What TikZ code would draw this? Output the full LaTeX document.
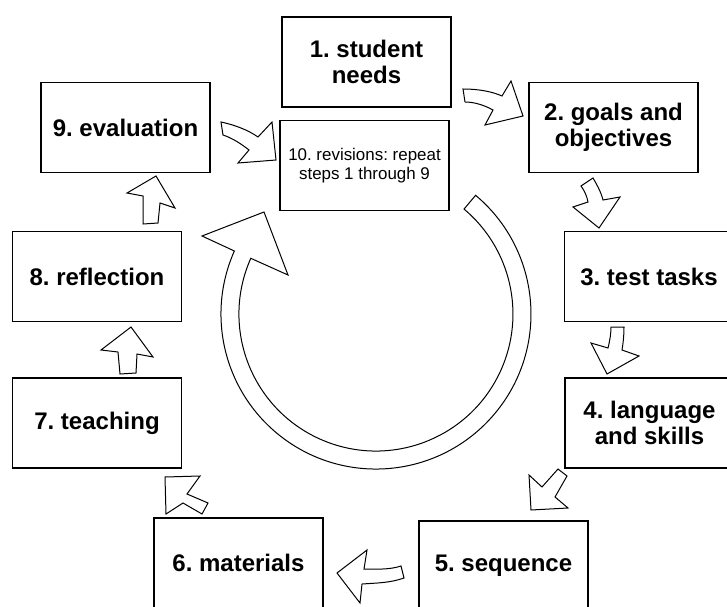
\documentclass[tikz,border=0pt]{standalone}
\usepackage{fontspec}
\setmainfont{Liberation Sans}
\frenchspacing
\usetikzlibrary{positioning}

\begin{document}
\begin{tikzpicture}[x=0.75pt,y=0.75pt,yscale=-1,xscale=1,
  stepbox/.style={draw, line width=1pt, minimum width=126.75pt, minimum height=67.5pt, inner sep=0pt, align=center, font=\fontsize{18}{19.8}\selectfont\bfseries},
  notebox/.style={stepbox, font=\fontsize{12.7}{14.3}\selectfont},
  blockarrow/.style={draw, line width=0.75pt, fill=white, line join=miter}]
\useasboundingbox (0,0) rectangle (727,606);

% Text Node
\node [stepbox] (needs) at (366.5,62) {1. student\\needs};
% Text Node
\node [stepbox] (goals) at (613.5,127.5) {2. goals and\\objectives};
% Text Node
\node [stepbox] (tasks) at (649,276.5) {3. test tasks};
% Text Node
\node [stepbox] (skills) at (649.5,423) {4. language\\and skills};
% Text Node
\node [stepbox] (sequence) at (503.5,566) {5. sequence};
% Text Node
\node [stepbox] (materials) at (238.5,563) {6. materials};
% Text Node
\node [stepbox] (teaching) at (97,423) {7. teaching};
% Text Node
\node [stepbox] (reflection) at (97,276.5) {8. reflection};
% Text Node
\node [stepbox] (evaluation) at (125.5,127.5) {9. evaluation};
% Text Node
\node [notebox] (revisions) at (364.5,165.5) {10. revisions: repeat\\steps 1 through 9};

%Curved Arrow: needs to goals
\draw [blockarrow] (463,89) .. controls (480,89) and (493,92) .. (502,96) -- (511,81) -- (523,116) -- (485,125) -- (493,110) .. controls (484,105) and (474,102) .. (465,102) -- cycle ;
%Curved Arrow: goals to tasks
\draw [blockarrow] (581,186) -- (593,178) .. controls (597,185) and (601,192) .. (603,200) -- (620,197) -- (599,228) -- (573,207) -- (588,202) .. controls (587,196) and (584,190) .. (581,186) -- cycle ;
%Curved Arrow: tasks to skills
\draw [blockarrow] (611,327) -- (624,327) .. controls (624,336) and (623,344) .. (622,350) -- (639,356) -- (607,374) -- (591,343) -- (608,348) .. controls (610,340) and (611,333) .. (611,327) -- cycle ;
%Arrow: skills to sequence
\draw [blockarrow] (558,469) -- (567,476) -- (555,497) -- (568,508) -- (531,510) -- (529,475) -- (542,487) -- cycle ;
%Curved Arrow: sequence to materials
\draw [blockarrow] (404,578) .. controls (390,583) and (376,583) .. (362,584) -- (360,603) -- (337,573) -- (367,550) -- (364,569) .. controls (376,569) and (389,570) .. (401,566) -- cycle ;
%Arrow: materials to teaching
\draw [blockarrow] (165,477) -- (200,476) -- (187,494) -- (208,503) -- (202,514) -- (183,503) -- (166,514) -- cycle ;
%Arrow: teaching to reflection
\draw [blockarrow] (131,327) -- (153,357) -- (137,354) -- (136,373) -- (120,374) -- (118,352) -- (101,350) -- cycle ;
%Arrow: reflection to evaluation
\draw [blockarrow] (156,176) -- (175,208) -- (160,203) -- (158,223) -- (143,224) -- (143,196) -- (127,193) -- cycle ;
%Curved Arrow: evaluation to revisions
\draw [blockarrow] (221,122) .. controls (235,125) and (248,130) .. (258,137) -- (272,122) -- (276,160) -- (238,163) -- (249,150) .. controls (240,143) and (232,138) .. (223,135) -- cycle ;

%Circular Arrow: repeat
\draw [blockarrow] (475.6,195.3) arc [start angle=-50, end angle=204, radius=155] -- (202,236) -- (264,212) -- (288,275) -- (250.8,258.3) arc [start angle=204, end angle=-50, radius=137] -- cycle ;

\end{tikzpicture}
\end{document}
